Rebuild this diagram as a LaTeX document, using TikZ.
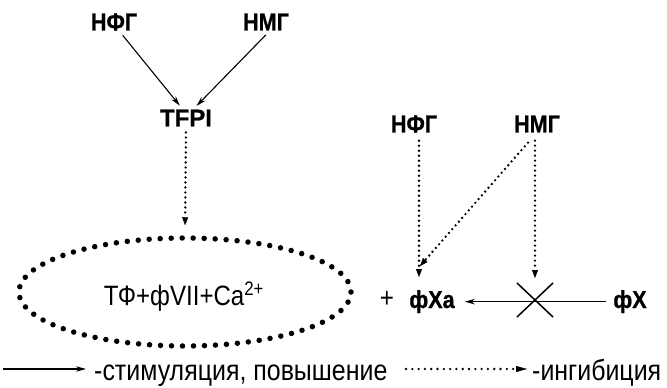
\documentclass[tikz,border=0pt]{standalone}
\usepackage{fontspec}
\setmainfont{Liberation Sans}
\newfontfamily\condfont{Liberation Sans}[FakeStretch=0.86]
\newfontfamily\lblfont{Liberation Sans Bold}[FakeStretch=0.88, FakeBold=0.8]
\newfontfamily\lblwide{Liberation Sans Bold}[FakeBold=0.8]
\usetikzlibrary{arrows.meta,shapes.geometric}
\begin{document}
\begin{tikzpicture}[x=1pt,y=-1pt,
  lbl/.style={font=\lblfont\fontsize{24.5}{28}\selectfont, inner sep=0pt},
  lblw/.style={font=\lblwide\fontsize{24}{28}\selectfont, inner sep=0pt},
  txt/.style={font=\condfont\fontsize{28}{32}\selectfont, inner sep=0pt},
  legtxt/.style={font=\condfont\fontsize{29}{33}\selectfont, inner sep=0pt},
  stim/.style={line width=1.1pt, -{Stealth[length=10pt,width=5.5pt]}},
  inhib/.style={line width=2.6pt, dash pattern=on 0pt off 5pt, line cap=round,
    -{Triangle[length=8pt,width=6pt,line width=0.3pt]}},
  bigdots/.style={line width=5.5pt, dash pattern=on 0pt off 11pt, line cap=round}
]
\useasboundingbox (0,0) rectangle (667,388);
\node[lbl] (nfg1) at (114,22) {НФГ};
\node[lbl] (nmg1) at (266,22) {НМГ};
\node[lblw] (tfpi) at (186,118) {TFPI};
\node[ellipse, minimum width=332pt, minimum height=108pt, draw, bigdots] (cplx) at (185,292) {};
\node[txt, anchor=base] (cplxt) at (184,305) {ТФ+фVII+Ca\textsuperscript{2+}};
\node[txt, anchor=base] (plus) at (387,307) {+};
\node[lbl, anchor=base] (fxa) at (432,308) {фXa};
\node[lbl, anchor=base] (fx) at (630,308) {фX};
\coordinate (cross) at (535,300);
\node[lbl] (nfg2) at (414,124) {НФГ};
\node[lbl] (nmg2) at (537,124) {НМГ};

\draw[stim, shorten <=6pt, shorten >=5pt] ([xshift=5pt]nfg1.south) -- ([xshift=-3pt]tfpi.north);
\draw[stim, shorten <=6pt, shorten >=5pt] ([xshift=4pt]nmg1.south) -- ([xshift=7pt]tfpi.north);
\draw[inhib, shorten <=6pt, shorten >=10pt] (tfpi.south) -- (cplx.north);
\draw[inhib, shorten <=8pt, shorten >=13pt] ([xshift=5pt]nfg2.south) -- ([xshift=5pt]nfg2.south |- fxa.north);
\draw[inhib] ([xshift=-9pt,yshift=-10pt]nmg2.south) -- ([xshift=-12pt,yshift=24pt]fxa.north);
\draw[inhib, shorten <=8pt, shorten >=22pt] ([xshift=-2pt]nmg2.south) -- ([xshift=-2pt]nmg2.south |- cross);
\draw[stim, shorten <=7pt, shorten >=10pt] (fx.west) -- (fxa.east);
\draw[line width=1.5pt] ([shift={(-18,-17)}]cross) -- ([shift={(18,17)}]cross);
\draw[line width=1.5pt] ([shift={(-18,17)}]cross) -- ([shift={(18,-17)}]cross);

\coordinate (l1a) at (3,369);
\coordinate (l1b) at (86,369);
\draw[stim] (l1a) -- (l1b);
\node[legtxt, anchor=base west] (leg1) at (94,380) {-стимуляция, повышение};
\coordinate (l2a) at (406,369);
\coordinate (l2b) at (527,369);
\draw[inhib, dash pattern=on 0pt off 6.3pt, -{Triangle[length=11pt,width=6pt,line width=0.3pt]}] (l2a) -- (l2b);
\node[legtxt, anchor=base west] (leg2) at (532,380) {-ингибиция};
\end{tikzpicture}
\end{document}
